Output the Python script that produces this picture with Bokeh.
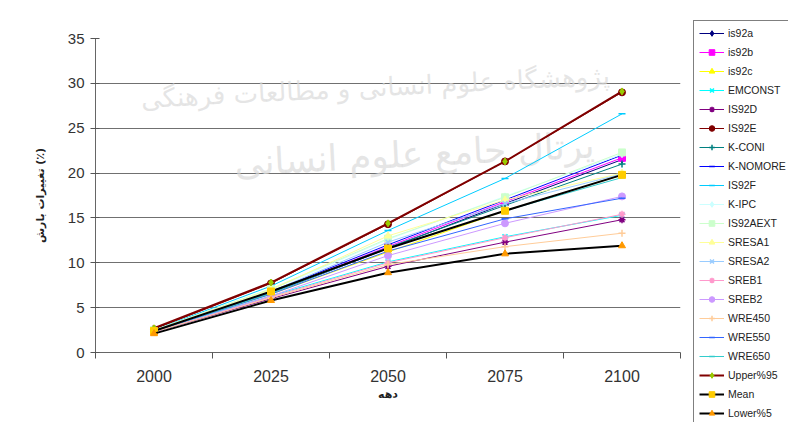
from bokeh.plotting import figure
from bokeh.models import (Legend, LegendItem, FixedTicker, Label, Range1d)
from bokeh.layouts import row
from bokeh.embed import file_html
from bokeh.resources import INLINE

years = [2000, 2025, 2050, 2075, 2100]
year_labels = ["2000", "2025", "2050", "2075", "2100"]

is92a = [2.4, 6.6, 11.6, 16.6, 21.5]
is92b = [2.4, 6.7, 11.8, 16.8, 21.7]
is92c = [2.4, 6.5, 11.2, 15.8, 19.8]
emconst = [2.4, 6.3, 10.1, 12.9, 15.3]
is92d = [2.3, 6.0, 9.6, 12.3, 14.8]
is92e = [2.6, 7.7, 14.3, 21.3, 29.0]
k_coni = [2.4, 6.7, 11.7, 16.4, 21.0]
k_nomore = [2.4, 6.8, 12.0, 17.0, 22.0]
is92f = [2.5, 7.4, 13.6, 19.4, 26.6]
k_ipc = [2.5, 7.0, 12.6, 17.4, 22.1]
is92aext = [2.5, 7.1, 12.7, 17.3, 22.3]
sresa1 = [2.4, 7.0, 13.0, 17.0, 20.0]
sresa2 = [2.4, 6.8, 12.3, 16.6, 19.9]
sreb1 = [2.3, 6.2, 10.0, 12.8, 15.4]
sreb2 = [2.3, 6.3, 10.8, 14.4, 17.4]
wre450 = [2.3, 6.1, 9.8, 11.8, 13.3]
wre550 = [2.4, 6.5, 11.3, 14.9, 17.2]
wre650 = [2.4, 6.6, 11.6, 15.8, 19.5]
upper95 = [2.7, 7.8, 14.4, 21.3, 29.1]
mean = [2.4, 6.8, 11.6, 15.8, 19.8]
lower5 = [2.1, 5.8, 8.9, 11.0, 11.9]

y_ticks = [0, 5, 10, 15, 20, 25, 30, 35]

series = [
    ("is92a", is92a, "#000080", "diamond", "#000080", 1),
    ("is92b", is92b, "#FF00FF", "square", "#FF00FF", 1),
    ("is92c", is92c, "#FFFF00", "triangle", "#FFFF00", 1),
    ("EMCONST", emconst, "#00FFFF", "x", "#00FFFF", 1),
    ("IS92D", is92d, "#800080", "asterisk", "#800080", 1),
    ("IS92E", is92e, "#800000", "circle", "#800000", 1),
    ("K-CONI", k_coni, "#008080", "cross", "#008080", 1),
    ("K-NOMORE", k_nomore, "#0000FF", "dash", "#0000FF", 1),
    ("IS92F", is92f, "#00CCFF", "dash", "#00CCFF", 1),
    ("K-IPC", k_ipc, "#CCFFFF", "diamond", "#CCFFFF", 1),
    ("IS92AEXT", is92aext, "#CCFFCC", "square", "#CCFFCC", 1),
    ("SRESA1", sresa1, "#FFFF99", "triangle", "#FFFF99", 1),
    ("SRESA2", sresa2, "#99CCFF", "x", "#99CCFF", 1),
    ("SREB1", sreb1, "#FF99CC", "asterisk", "#FF99CC", 1),
    ("SREB2", sreb2, "#CC99FF", "circle", "#CC99FF", 1),
    ("WRE450", wre450, "#FFCC99", "cross", "#FFCC99", 1),
    ("WRE550", wre550, "#3366FF", "dash", "#3366FF", 1),
    ("WRE650", wre650, "#33CCCC", "dash", "#33CCCC", 1),
    ("Upper%95", upper95, "#800000", "diamond", "#99CC00", 2),
    ("Mean", mean, "#000000", "square", "#FFCC00", 2),
    ("Lower%5", lower5, "#000000", "triangle", "#FF9900", 2),
]

p = figure(width=693, height=422, output_backend="svg", toolbar_location=None,
           min_border_left=95, min_border_right=13, min_border_top=38,
           min_border_bottom=70,
           x_range=Range1d(1987.5, 2112.5), y_range=Range1d(0, 35))
p.outline_line_color = None
p.background_fill_color = "white"
p.border_fill_color = "white"

# Watermark (faint background text of the source image)
wm1 = Label(x=515, y=262, x_units="screen", y_units="screen",
            text="پژوهشگاه علوم انسانی و مطالعات فرهنگی", text_font="DejaVu Sans",
            text_font_size="26px", text_color="#dadada", text_alpha=0.7,
            text_align="right", angle=0.05, level="underlay")
wm2 = Label(x=500, y=187, x_units="screen", y_units="screen",
            text="پرتال جامع علوم انسانی", text_font="DejaVu Sans",
            text_font_size="36px", text_color="#dadada", text_alpha=0.7,
            text_align="right", angle=0.05, level="underlay")
p.add_layout(wm1)
p.add_layout(wm2)

# legend lives in its own narrow figure to the right (its data lie outside its ranges)
pl = figure(width=95, height=422, output_backend="svg", toolbar_location=None,
            min_border=0, x_axis_location=None, y_axis_location=None,
            x_range=Range1d(0, 1), y_range=Range1d(0, 1))
pl.outline_line_color = None
pl.grid.grid_line_color = None
pl.border_fill_color = "white"
for fig in (p, pl):
    if "frame_align" in fig.properties():
        fig.frame_align = False

items = []
for name, vals, lc, mk, mc, lw in series:
    lwm = 1.5 if mk in ("x", "asterisk", "cross", "dash") else 1
    p.line(years, vals, line_color=lc, line_width=lw)
    p.scatter(years, vals, marker=mk, size=7, line_color=mc, fill_color=mc, line_width=lwm)
    l1 = pl.line(years, vals, line_color=lc, line_width=lw)
    l2 = pl.scatter(years, vals, marker=mk, size=7, line_color=mc, fill_color=mc,
                    line_width=lwm)
    items.append(LegendItem(label=name, renderers=[l1, l2]))

legend = Legend(items=items, location=(0, -4), orientation="vertical", ncols=1,
                label_text_font="Liberation Sans", label_text_font_size="10.5px",
                label_text_color="#222222", glyph_width=25, glyph_height=14,
                label_height=14, label_standoff=4, spacing=5, padding=5, margin=0,
                border_line_color="black", border_line_width=1,
                background_fill_color="white", background_fill_alpha=1)
pl.add_layout(legend, "center")

# axes
p.xaxis.ticker = FixedTicker(ticks=years,
                             minor_ticks=[1987.5, 2012.5, 2037.5, 2062.5, 2087.5, 2112.5])
p.xaxis.major_label_overrides = {y: l for y, l in zip(years, year_labels)}
p.xaxis.major_tick_out = 0
p.xaxis.major_tick_in = 0
p.xaxis.minor_tick_out = 6
p.xaxis.minor_tick_in = 0
p.xaxis.minor_tick_line_color = "#555555"
p.xaxis.axis_line_color = "#666666"
p.xaxis.major_label_text_font = "Liberation Sans"
p.xaxis.major_label_text_font_size = "16px"
p.xaxis.major_label_text_color = "#333333"
p.xaxis.major_label_standoff = 11
p.xaxis.axis_label = "دهه"
p.xaxis.axis_label_text_font = "DejaVu Sans"
p.xaxis.axis_label_text_font_size = "11px"
p.xaxis.axis_label_text_font_style = "bold"
p.xaxis.axis_label_text_color = "#222222"
p.xaxis.axis_label_standoff = 3

p.yaxis.ticker = FixedTicker(ticks=y_ticks, minor_ticks=[])
p.yaxis.major_tick_out = 5
p.yaxis.major_tick_in = 4
p.yaxis.major_tick_line_color = "#555555"
p.yaxis.axis_line_color = "#666666"
p.yaxis.major_label_text_font = "Liberation Sans"
p.yaxis.major_label_text_font_size = "15px"
p.yaxis.major_label_text_color = "#333333"
p.yaxis.major_label_standoff = 6
p.yaxis.axis_label = "تغییرات بارش (٪)"
p.yaxis.axis_label_text_font = "DejaVu Sans"
p.yaxis.axis_label_text_font_size = "11px"
p.yaxis.axis_label_text_font_style = "bold"
p.yaxis.axis_label_text_color = "#222222"
p.yaxis.axis_label_standoff = 18

p.xgrid.grid_line_color = None
p.ygrid.grid_line_color = "#707070"
p.ygrid.grid_line_width = 1

layout = row(p, pl, spacing=0)
open("out.html", "w").write(file_html(layout, INLINE))
